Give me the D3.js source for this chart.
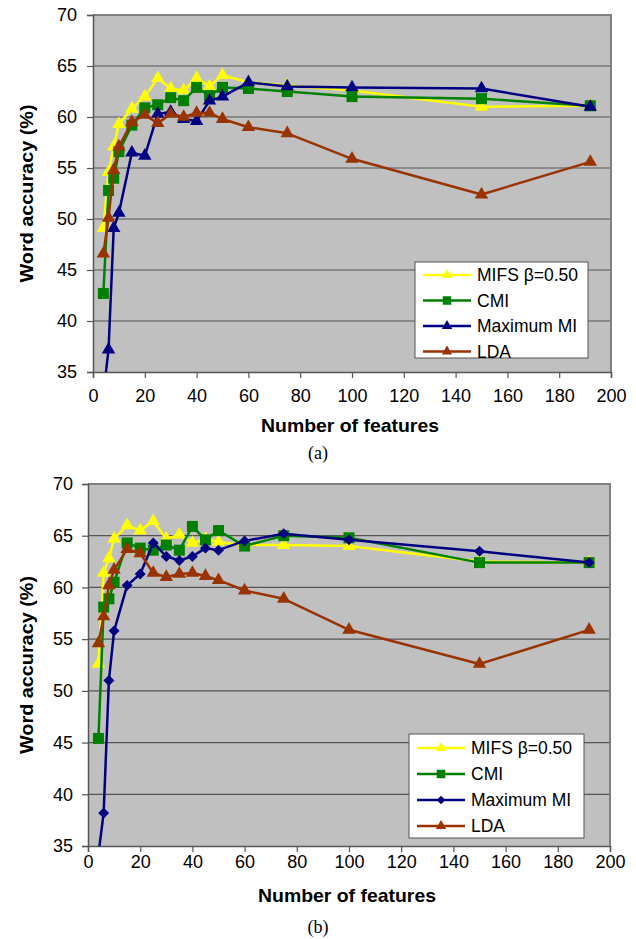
<!DOCTYPE html>
<html>
<head>
<meta charset="utf-8">
<script src="https://cdn.jsdelivr.net/npm/d3@7"></script>
<style>
  body { margin: 0; background: #fff; }
  text { font-family: "Liberation Sans", Arial, sans-serif; }
</style>
</head>
<body>
<svg id="chart" width="636" height="939"></svg>
<script>
// x values (number of features) shared by all series
const features = [4, 6, 8, 10, 15, 20, 25, 30, 35, 40, 45, 50, 60, 75, 100, 150, 192];
const xTicks = [0, 20, 40, 60, 80, 100, 120, 140, 160, 180, 200];
const yTicks = [35, 40, 45, 50, 55, 60, 65, 70];
const seriesNames = ["MIFS β=0.50", "CMI", "Maximum MI", "LDA"];

// panel (a)
const mifsA  = [49.1, 54.6, 57.1, 59.3, 60.8, 62.0, 63.8, 62.8, 62.6, 63.8, 63.0, 64.1, 63.4, 63.1, 62.6, 61.0, 61.1];
const cmiA   = [42.7, 52.8, 54.0, 56.6, 59.2, 60.9, 61.2, 61.9, 61.6, 62.9, 62.1, 62.9, 62.8, 62.5, 62.0, 61.8, 61.1];
const maxmiA = [32.8, 37.2, 49.1, 50.6, 56.5, 56.2, 60.3, 60.5, 59.8, 59.6, 61.6, 62.0, 63.4, 63.0, 62.9, 62.8, 61.0];
const ldaA   = [46.6, 50.1, 54.8, 57.1, 59.5, 60.2, 59.4, 60.3, 60.0, 60.4, 60.4, 59.8, 59.0, 58.4, 55.9, 52.4, 55.6];

// panel (b)
const mifsB  = [52.6, 61.4, 62.8, 64.7, 66.0, 65.5, 66.4, 64.7, 65.1, 64.3, 64.7, 64.4, 64.1, 64.1, 64.0, 62.5, 62.4];
const cmiB   = [45.4, 58.1, 58.9, 60.5, 64.3, 63.8, 63.6, 64.1, 63.6, 65.9, 64.6, 65.5, 64.0, 65.0, 64.8, 62.4, 62.4];
const maxmiB = [34.2, 38.2, 51.0, 55.8, 60.2, 61.3, 64.3, 63.0, 62.6, 63.0, 63.8, 63.6, 64.5, 65.2, 64.6, 63.5, 62.4];
const ldaB   = [54.6, 57.2, 60.2, 61.7, 63.7, 63.3, 61.4, 61.0, 61.3, 61.4, 61.1, 60.7, 59.7, 58.9, 55.9, 52.6, 55.9];

const colors = ["#ffff00", "#008000", "#000080", "#993300"];

const svg = d3.select("#chart");

function drawPanel(id, cfg, values, shapes) {
  const g = svg.append("g");
  const x = d3.scaleLinear().domain([0, 200]).range([cfg.left, cfg.right]);
  const y = d3.scaleLinear().domain([35, 70]).range([cfg.bottom, cfg.top]);

  g.append("rect")
    .attr("x", cfg.left).attr("y", cfg.top)
    .attr("width", cfg.right - cfg.left).attr("height", cfg.bottom - cfg.top)
    .attr("fill", "#c0c0c0");

  // gridlines
  g.selectAll(".grid").data(yTicks.slice(1, -1)).enter().append("line")
    .attr("x1", cfg.left).attr("x2", cfg.right)
    .attr("y1", d => y(d)).attr("y2", d => y(d))
    .attr("stroke", "#555").attr("stroke-width", 1.2);

  // plot border (top / right)
  g.append("path")
    .attr("d", `M${cfg.left},${cfg.top}H${cfg.right}V${cfg.bottom}`)
    .attr("fill", "none").attr("stroke", "#808080").attr("stroke-width", 2);

  const xAxis = g.append("g")
    .attr("transform", `translate(0,${cfg.bottom})`)
    .call(d3.axisBottom(x).tickValues(xTicks).tickSize(6).tickPadding(cfg.xPad));
  const yAxis = g.append("g")
    .attr("transform", `translate(${cfg.left},0)`)
    .call(d3.axisLeft(y).tickValues(yTicks).tickSize(6).tickPadding(cfg.yPad));
  [xAxis, yAxis].forEach(a => {
    a.select(".domain").attr("stroke", "#555").attr("stroke-width", 1.5);
    a.selectAll(".tick line").attr("stroke", "#555").attr("stroke-width", 1.2);
    a.selectAll("text").attr("font-size", 18).attr("fill", "#000")
      .attr("font-family", "Liberation Sans, Arial, sans-serif");
  });

  // clip
  g.append("clipPath").attr("id", "clip" + id).append("rect")
    .attr("x", cfg.left - 10).attr("y", cfg.top - 10)
    .attr("width", cfg.right - cfg.left + 20).attr("height", cfg.bottom - cfg.top + 10);
  const plot = g.append("g").attr("clip-path", `url(#clip${id})`);

  const line = d3.line().x((d, i) => x(features[i])).y(d => y(d));

  values.forEach((vals, s) => {
    plot.append("path").datum(vals)
      .attr("d", line).attr("fill", "none")
      .attr("stroke", colors[s]).attr("stroke-width", 2.5)
      .attr("stroke-linejoin", "round");
    plot.selectAll(".m" + s).data(vals).enter().append("path")
      .attr("d", d3.symbol(shapes[s].type, shapes[s].size))
      .attr("transform", (d, i) => `translate(${x(features[i])},${y(d)})` + (shapes[s].rot ? " rotate(45)" : ""))
      .attr("fill", colors[s]);
  });

  // axis titles
  g.append("text")
    .attr("x", (cfg.left + cfg.right) / 2 - 2).attr("y", cfg.xTitleY)
    .attr("text-anchor", "middle").attr("font-size", 18.5).attr("font-weight", "bold")
    .attr("textLength", 178).attr("lengthAdjust", "spacingAndGlyphs")
    .text("Number of features");
  g.append("text")
    .attr("transform", `translate(27,${(cfg.top + cfg.bottom) / 2}) rotate(-90)`)
    .attr("text-anchor", "middle").attr("dy", "0.35em")
    .attr("font-size", 18.5).attr("font-weight", "bold")
    .attr("textLength", 178).attr("lengthAdjust", "spacingAndGlyphs")
    .text("Word accuracy (%)");
  g.append("text")
    .attr("x", 318).attr("y", cfg.captionY)
    .attr("text-anchor", "middle").attr("font-size", 18)
    .style("font-family", "Liberation Serif, Times New Roman, serif")
    .text(cfg.caption);

  // legend
  const L = cfg.legend;
  g.append("rect").attr("x", L.x).attr("y", L.y).attr("width", L.w).attr("height", L.h)
    .attr("fill", "#fff").attr("stroke", "#555").attr("stroke-width", 1);
  seriesNames.forEach((name, s) => {
    const yy = L.y + L.first + s * L.step;
    g.append("line").attr("x1", L.x + 8).attr("x2", L.x + 56)
      .attr("y1", yy).attr("y2", yy)
      .attr("stroke", colors[s]).attr("stroke-width", 2.5);
    g.append("path")
      .attr("d", d3.symbol(shapes[s].type, shapes[s].size * 0.6))
      .attr("transform", `translate(${L.x + 32},${yy})` + (shapes[s].rot ? " rotate(45)" : ""))
      .attr("fill", colors[s]);
    g.append("text").attr("x", L.x + 62).attr("y", yy).attr("dy", "0.36em")
      .attr("font-size", 17.5).text(name);
  });
}

const tri = { type: d3.symbolTriangle, size: 78 };
const sq = { type: d3.symbolSquare, size: 121 };
const dia = { type: d3.symbolSquare, size: 60, rot: true };

drawPanel("a", {
  left: 93, right: 611, top: 15, bottom: 372,
  xPad: 11, yPad: 10, xTitleY: 432, captionY: 459, caption: "(a)",
  legend: { x: 415, y: 262, w: 173, h: 96, first: 13, step: 25.5 }
}, [mifsA, cmiA, maxmiA, ldaA], [tri, sq, tri, tri]);

drawPanel("b", {
  left: 88, right: 610, top: 484, bottom: 846,
  xPad: 3, yPad: 9, xTitleY: 902, captionY: 933, caption: "(b)",
  legend: { x: 409, y: 734, w: 175, h: 104, first: 14, step: 26 }
}, [mifsB, cmiB, maxmiB, ldaB], [tri, sq, dia, tri]);
</script>
</body>
</html>
